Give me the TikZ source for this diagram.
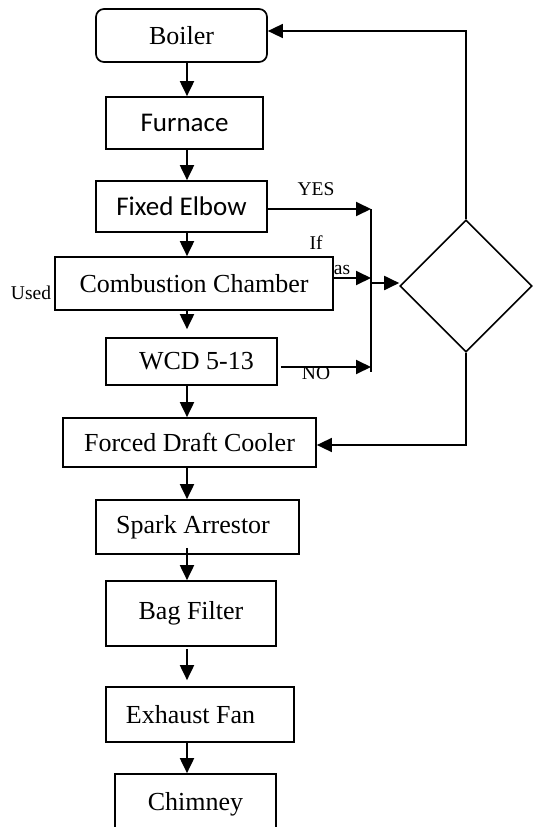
\documentclass[tikz,border=0pt]{standalone}
\usepackage{fontspec}
\setmainfont{Liberation Serif}
\newfontfamily\calibrifont{Carlito}
\usetikzlibrary{arrows.meta,shapes.geometric}
\begin{document}
\begin{tikzpicture}[x=1pt,y=-1pt,
  box/.style={draw,line width=1.7pt,inner sep=0pt,font=\fontsize{26}{30}\selectfont},
  sbox/.style={box,font=\calibrifont\fontsize{27}{31}\selectfont},
  line/.style={line width=1.9pt},
  arr/.style={line,-{Triangle[length=15pt,width=14pt]}},
  lab/.style={font=\fontsize{19.5}{22}\selectfont,inner sep=0pt}]
\useasboundingbox (0,0) rectangle (534,827);
\clip (0,0) rectangle (534,827);
% main column
\node[box,rounded corners=8pt,minimum width=171pt,minimum height=53pt] (boiler) at (181.5,35.5) {Boiler};
\node[sbox,minimum width=157pt,minimum height=52pt] (furn) at (184.5,123) {Furnace};
\node[sbox,minimum width=171pt,minimum height=51pt] (elbow) at (181.5,206.5) {Fixed Elbow};
\node[box,minimum width=278pt,minimum height=53pt] (comb) at (194,283.5) {Combustion Chamber};
\node[box,minimum width=171pt,minimum height=47pt] (wcd) at (191.5,361.5) {\hspace*{10pt}WCD 5-13};
\node[box,minimum width=253pt,minimum height=49pt] (fdc) at (189.5,442.5) {Forced Draft Cooler};
\node[box,minimum width=203pt,minimum height=54pt] (spark) at (197.5,527) {Spark Arrestor\hspace*{9pt}};
\node[box,minimum width=170pt,minimum height=65pt] (bag) at (191,613.5) {\raisebox{5pt}{Bag Filter}};
\node[box,minimum width=188pt,minimum height=55pt] (fan) at (200,714.5) {Exhaust Fan\hspace*{19pt}};
\node[box,minimum width=161pt,minimum height=60pt] (chim) at (195.5,804) {Chimney};
% decision
\node[draw,line width=1.6pt,diamond,shape aspect=1,minimum width=132pt,minimum height=132pt,inner sep=0pt] (dec) at (466,286) {};
% down arrows
\coordinate (X) at (187,0);
\draw[arr] (boiler.south -| X) -- (furn.north -| X);
\draw[arr] (furn.south -| X) -- (elbow.north -| X);
\draw[arr] (elbow.south -| X) -- (comb.north -| X);
\draw[arr] (comb.south -| X) -- ([yshift=8pt]wcd.north -| X);
\draw[arr] (wcd.south -| X) -- (fdc.north -| X);
\draw[arr] (fdc.south -| X) -- (spark.north -| X);
\draw[arr] ([yshift=7pt]spark.south -| X) -- (bag.north -| X);
\draw[arr] ([yshift=-2pt]bag.south -| X) -- ([yshift=6pt]fan.north -| X);
\draw[arr] (fan.south -| X) -- (chim.north -| X);
% bus
\coordinate (busT) at (371,209);
\coordinate (busC) at (371,278);
\coordinate (busD) at (371,283);
\coordinate (busN) at (371,367);
\coordinate (busB) at (371,372);
\draw[line,line width=1.5pt] (busT) -- (busB);
\draw[arr] (elbow.east |- busT) -- (busT);
\draw[arr] (comb.east |- busC) -- (busC);
\draw[arr] ([xshift=3pt]wcd.east |- busN) -- (busN);
\draw[arr] (busD) -- (busD -| dec.west);
% feedback loops
\coordinate (topR) at (466,31);
\coordinate (botR) at (465,445);
\draw[arr,line width=1.5pt] (dec.north) -- (topR) -- (boiler.east |- topR);
\draw[arr,line width=1.5pt] (dec.south) -- (dec.south |- botR) -- (fdc.east |- botR);
% labels
\node[lab] (yes) at (316,189) {YES};
\node[lab] (if) at (316,243) {If};
\node[lab] (as) at (342,270) {as};
\node[lab] (no) at (316,373) {NO};
\node[lab] (used) at (31,293) {Used};
\end{tikzpicture}
\end{document}
